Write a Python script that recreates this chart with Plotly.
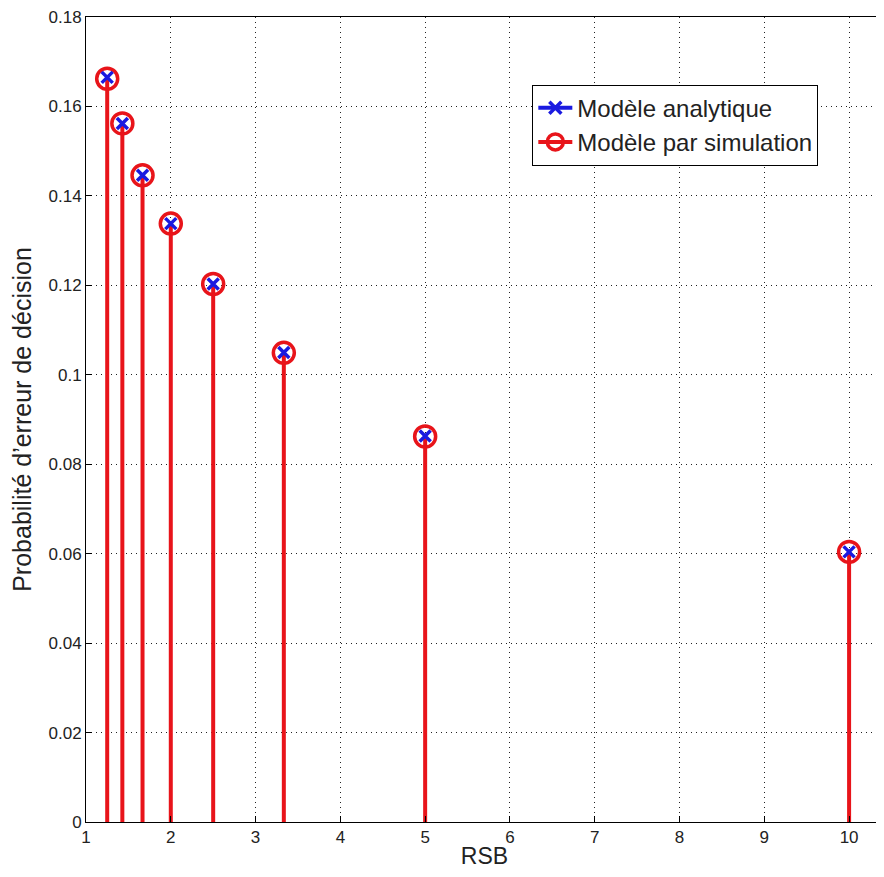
import plotly.graph_objects as go

rsb = [1.25, 1.4286, 1.6667, 2.0, 2.5, 3.3333, 5.0, 10.0]
p_analytic = [0.1665, 0.1562, 0.1446, 0.1338, 0.1203, 0.1050, 0.0863, 0.0604]
p_simulation = [0.1662, 0.1562, 0.1446, 0.1338, 0.1203, 0.1049, 0.0862, 0.0604]
x_ticks = [1, 2, 3, 4, 5, 6, 7, 8, 9, 10]
y_ticks = [0, 0.02, 0.04, 0.06, 0.08, 0.1, 0.12, 0.14, 0.16, 0.18]
y_tick_labels = ["0", "0.02", "0.04", "0.06", "0.08", "0.1", "0.12", "0.14", "0.16", "0.18"]

RED = "#e8141a"
BLUE = "#1a1ae0"


def stems(xs, ys):
    sx, sy = [], []
    for a, b in zip(xs, ys):
        sx += [a, a, None]
        sy += [0, b, None]
    return sx, sy


fig = go.Figure()

rx, ry = stems(rsb, p_simulation)
fig.add_trace(go.Scatter(x=rx, y=ry, mode="lines", line=dict(color=RED, width=4),
                         showlegend=False, hoverinfo="skip"))
fig.add_trace(go.Scatter(x=rsb, y=p_simulation, mode="markers",
                         marker=dict(symbol="circle-open", size=21, color=RED, line=dict(width=3.5, color=RED)),
                         showlegend=False))
fig.add_trace(go.Scatter(x=rsb, y=p_analytic, mode="markers",
                         marker=dict(symbol="x-thin-open", size=11, color=BLUE, line=dict(width=3.5, color=BLUE)),
                         showlegend=False))

# legend entries
fig.add_trace(go.Scatter(x=[None], y=[None], mode="lines+markers", name="Modèle analytique",
                         line=dict(color=BLUE, width=4),
                         marker=dict(symbol="x-thin-open", size=12, color=BLUE, line=dict(width=3.5, color=BLUE))))
fig.add_trace(go.Scatter(x=[None], y=[None], mode="lines+markers", name="Modèle par simulation",
                         line=dict(color=RED, width=4),
                         marker=dict(symbol="circle-open", size=18, color=RED, line=dict(width=3.5, color=RED))))

axis_common = dict(
    showline=True, linecolor="black", linewidth=1, mirror=True,
    showgrid=True, gridcolor="#222", gridwidth=1, griddash="1px,4px",
    ticks="inside", ticklen=6, tickcolor="black", zeroline=False,
    ticklabeloverflow="allow",
    tickfont=dict(family="Liberation Sans, Arial", size=17, color="#222"),
)

fig.update_layout(
    width=876, height=861,
    margin=dict(l=78, r=0, t=8, b=45),
    paper_bgcolor="white", plot_bgcolor="white",
    font=dict(family="Liberation Sans, Arial", color="#222"),
    xaxis=dict(range=[1, 10.4], tickvals=x_ticks, ticktext=[str(v) for v in x_ticks],
               title=dict(text="RSB", font=dict(size=23), standoff=5), **axis_common),
    yaxis=dict(range=[0, 0.18], tickvals=y_ticks, ticktext=y_tick_labels,
               title=dict(text="Probabilité d’erreur de décision", font=dict(size=25), standoff=12),
               **axis_common),
    legend=dict(x=0.56, y=0.916, xanchor="left", yanchor="top",
                bordercolor="black", borderwidth=1, bgcolor="white",
                font=dict(size=24, color="#222"), itemwidth=34, tracegroupgap=0),
    showlegend=True,
)

fig.write_html("out.html")
